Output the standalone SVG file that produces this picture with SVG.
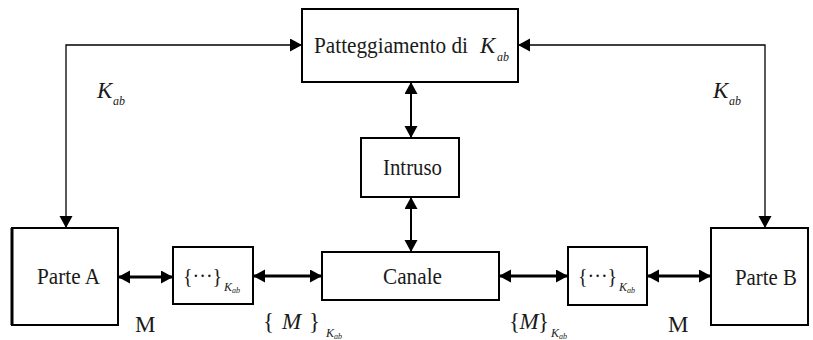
<svg xmlns="http://www.w3.org/2000/svg" width="813" height="340" viewBox="0 0 813 340">
<style>
.box{fill:#fff;stroke:#000;stroke-width:2}
.t{font-family:"Liberation Serif","Times New Roman",serif;font-size:23px;fill:#1a1a1a}
.b{font-family:"Liberation Serif","Times New Roman",serif;font-size:20px;fill:#1a1a1a}
.i{font-style:italic}
.s{font-family:"Liberation Serif","Times New Roman",serif;font-size:12px;font-style:italic;fill:#1a1a1a}
.thin{fill:none;stroke:#000;stroke-width:1.3}
.mid{fill:none;stroke:#000;stroke-width:2}
.thick{fill:none;stroke:#000;stroke-width:3}
</style>
<defs>
<marker id="ah" markerUnits="userSpaceOnUse" markerWidth="13" markerHeight="14" refX="12" refY="6.5" orient="auto-start-reverse">
<path d="M0,0 L12,6.5 L0,13 z" fill="#000"/>
</marker>
</defs>
<rect width="813" height="340" fill="#fff"/>
<g id="connectors">
<path class="thin" d="M302,45 H66 V228" marker-start="url(#ah)" marker-end="url(#ah)"/>
<path class="thin" d="M518,45 H765 V228" marker-start="url(#ah)" marker-end="url(#ah)"/>
<path class="mid" d="M411,82 V138" marker-start="url(#ah)" marker-end="url(#ah)"/>
<path class="mid" d="M411,197 V252" marker-start="url(#ah)" marker-end="url(#ah)"/>
<path class="thick" d="M118,277 H173" marker-start="url(#ah)" marker-end="url(#ah)"/>
<path class="thick" d="M253,276 H322" marker-start="url(#ah)" marker-end="url(#ah)"/>
<path class="thick" d="M499,276 H568" marker-start="url(#ah)" marker-end="url(#ah)"/>
<path class="thick" d="M647,276 H711" marker-start="url(#ah)" marker-end="url(#ah)"/>
</g>
<g id="patteggiamento">
<rect class="box" x="302" y="9" width="216" height="73"/>
<text class="t" x="314" y="53" textLength="154" lengthAdjust="spacingAndGlyphs">Patteggiamento di</text>
<text class="t i" x="480" y="53">K</text>
<text class="s" x="497" y="61">ab</text>
</g>
<g id="intruso">
<rect class="box" x="361" y="138" width="98" height="59"/>
<text class="t" x="383" y="175" textLength="59" lengthAdjust="spacingAndGlyphs">Intruso</text>
</g>
<g id="canale">
<rect class="box" x="322" y="252" width="177" height="48"/>
<text class="t" x="383" y="284" textLength="59" lengthAdjust="spacingAndGlyphs">Canale</text>
</g>
<g id="parteA">
<rect class="box" x="12" y="228" width="106" height="97"/>
<line x1="12" y1="228" x2="12" y2="325" stroke="#000" stroke-width="3"/>
<text class="t" x="37" y="284" textLength="63" lengthAdjust="spacingAndGlyphs">Parte A</text>
</g>
<g id="parteB">
<rect class="box" x="711" y="228" width="97" height="97"/>
<text class="t" x="735" y="285" textLength="62" lengthAdjust="spacingAndGlyphs">Parte B</text>
</g>
<g id="cifraA">
<rect class="box" x="173" y="247" width="80" height="57"/>
<text class="b" x="183" y="283">{···}</text>
<text class="s" x="224" y="291">K<tspan font-size="8" dy="2">ab</tspan></text>
</g>
<g id="cifraB">
<rect class="box" x="568" y="247" width="79" height="58"/>
<text class="b" x="578" y="283">{···}</text>
<text class="s" x="619" y="291">K<tspan font-size="8" dy="2">ab</tspan></text>
</g>
<g id="labels">
<text class="t i" x="97" y="98">K</text>
<text class="s" x="113" y="105">ab</text>
<text class="t i" x="713" y="98">K</text>
<text class="s" x="729" y="105">ab</text>
<text class="t" x="135" y="332">M</text>
<text class="t" x="668" y="332">M</text>
<text class="t" x="263" y="329" textLength="57" lengthAdjust="spacing">{ <tspan font-style="italic">M</tspan> }</text>
<text class="s" x="326" y="337">K<tspan font-size="8" dy="2">ab</tspan></text>
<text class="t" x="509" y="329" textLength="40" lengthAdjust="spacing">{<tspan font-style="italic">M</tspan>}</text>
<text class="s" x="551" y="337">K<tspan font-size="8" dy="2">ab</tspan></text>
</g>
</svg>
